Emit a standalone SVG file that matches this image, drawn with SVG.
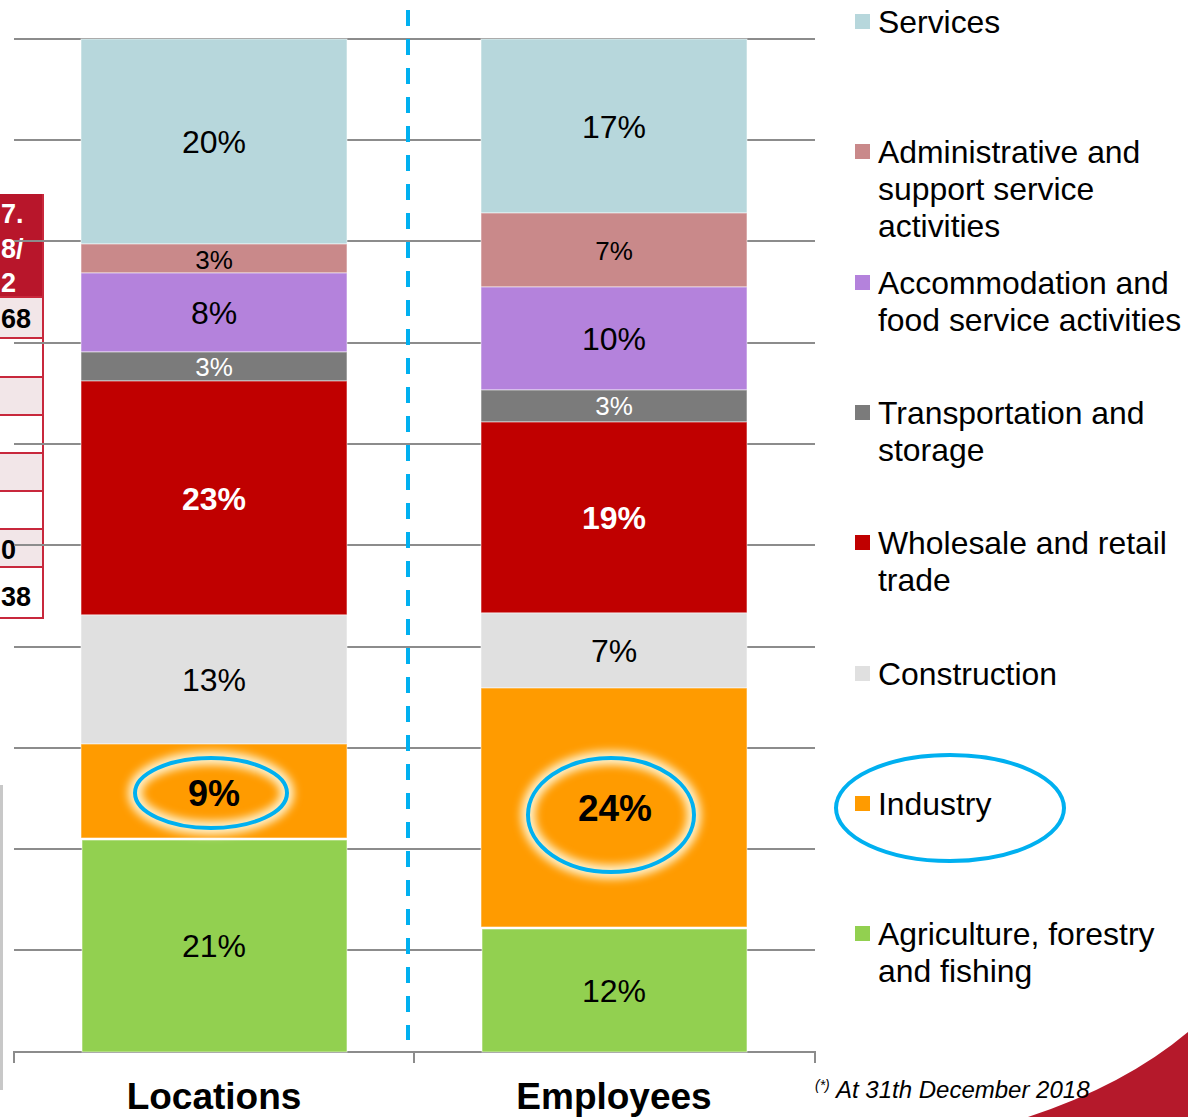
<svg xmlns="http://www.w3.org/2000/svg" width="1188" height="1117" viewBox="0 0 1188 1117">
<defs>
<style>
.grid{stroke:#8c8c8c;stroke-width:2;fill:none}
.seg{stroke:#ffffff;stroke-opacity:0.55;stroke-width:1}
.lbl{font-family:"Liberation Sans",Arial,sans-serif;font-size:32px;text-anchor:middle;fill:#000}
.sm{font-size:26px}
.b{font-weight:bold}
.w{fill:#fff}
.leg{font-family:"Liberation Sans",Arial,sans-serif;font-size:31.9px;fill:#000}
.ax{font-family:"Liberation Sans",Arial,sans-serif;font-size:37px;font-weight:bold;text-anchor:middle;fill:#000}
.tb{font-family:"Liberation Sans",Arial,sans-serif;font-size:27px;font-weight:bold}
.hl{fill:none;stroke:#00b0f0;stroke-width:4}
</style>
<filter id="glow" x="-30%" y="-30%" width="160%" height="160%">
<feGaussianBlur stdDeviation="4"/>
</filter>
</defs>
<rect width="1188" height="1117" fill="#fff"/>

<!-- left table fragment -->
<g id="table">
<rect x="-10" y="194" width="54" height="103" fill="#b8162b"/>
<rect x="-10" y="297" width="54" height="41" fill="#f2e6e8"/>
<rect x="-10" y="338" width="54" height="39" fill="#fff"/>
<rect x="-10" y="377" width="54" height="38" fill="#f2e6e8"/>
<rect x="-10" y="415" width="54" height="38" fill="#fff"/>
<rect x="-10" y="453" width="54" height="38" fill="#f2e6e8"/>
<rect x="-10" y="491" width="54" height="38" fill="#fff"/>
<rect x="-10" y="529" width="54" height="38" fill="#f2e6e8"/>
<rect x="-10" y="567" width="54" height="51" fill="#fff"/>
<g stroke="#c8283c" stroke-width="2" fill="none">
<path d="M43,194 V618 H-10"/>
<path d="M-10,297 H43 M-10,338 H43 M-10,377 H43 M-10,415 H43 M-10,453 H43 M-10,491 H43 M-10,529 H43 M-10,567 H43"/>
</g>
<text class="tb" x="1" y="223" fill="#fff">7.</text>
<text class="tb" x="1" y="258" fill="#fff">8/</text>
<text class="tb" x="1" y="292" fill="#fff">2</text>
<text class="tb" x="1" y="328" fill="#000">68</text>
<text class="tb" x="1" y="559" fill="#000">0</text>
<text class="tb" x="1" y="606" fill="#000">38</text>
</g>

<!-- left gray panel edge -->
<line x1="1.5" y1="785" x2="1.5" y2="1090" stroke="#c8c8c8" stroke-width="3"/>

<!-- gridlines and axis -->
<g id="grid">
<path class="grid" d="M14,39 H815 M14,140 H815 M14,241 H815 M14,343 H815 M14,444 H815 M14,545 H815 M14,647 H815 M14,748 H815 M14,849 H815 M14,950 H815"/>
<path class="grid" d="M14,1063 V1052 H815 V1063 M414,1052 V1063"/>
</g>

<!-- dashed separator -->
<line x1="408" y1="10" x2="408" y2="1040" stroke="#00b0f0" stroke-width="4" stroke-dasharray="16,13"/>

<!-- Locations bar -->
<g id="bar-locations">
<rect class="seg" x="81" y="39" width="266" height="205" fill="#b7d7dc"/>
<rect class="seg" x="81" y="244" width="266" height="29" fill="#c9898a"/>
<rect class="seg" x="81" y="273" width="266" height="79" fill="#b482dc"/>
<rect class="seg" x="81" y="352" width="266" height="29" fill="#7b7b7b"/>
<rect class="seg" x="81" y="381" width="266" height="234" fill="#c00000"/>
<rect class="seg" x="81" y="615" width="266" height="129" fill="#e0e0e0"/>
<rect class="seg" x="81" y="744" width="266" height="94" fill="#ff9b00"/>
<rect class="seg" x="82" y="840" width="265" height="212" fill="#92d050"/>
<text class="lbl" x="214" y="153">20%</text>
<text class="lbl sm" x="214" y="269">3%</text>
<text class="lbl" x="214" y="324">8%</text>
<text class="lbl sm w" x="214" y="376">3%</text>
<text class="lbl b w" x="214" y="510">23%</text>
<text class="lbl" x="214" y="691">13%</text>
<text class="lbl" x="214" y="957">21%</text>
</g>

<!-- Employees bar -->
<g id="bar-employees">
<rect class="seg" x="481" y="39" width="266" height="174" fill="#b7d7dc"/>
<rect class="seg" x="481" y="213" width="266" height="74" fill="#c9898a"/>
<rect class="seg" x="481" y="287" width="266" height="103" fill="#b482dc"/>
<rect class="seg" x="481" y="390" width="266" height="32" fill="#7b7b7b"/>
<rect class="seg" x="481" y="422" width="266" height="191" fill="#c00000"/>
<rect class="seg" x="481" y="613" width="266" height="75" fill="#e0e0e0"/>
<rect class="seg" x="481" y="688" width="266" height="239" fill="#ff9b00"/>
<rect class="seg" x="482" y="929" width="265" height="123" fill="#92d050"/>
<text class="lbl" x="614" y="138">17%</text>
<text class="lbl sm" x="614" y="260">7%</text>
<text class="lbl" x="614" y="350">10%</text>
<text class="lbl sm w" x="614" y="415">3%</text>
<text class="lbl b w" x="614" y="529">19%</text>
<text class="lbl" x="614" y="662">7%</text>
<text class="lbl" x="614" y="1002">12%</text>
</g>

<!-- highlight ellipses -->
<g id="highlight-locations">
<ellipse cx="211" cy="793" rx="76" ry="35" fill="none" stroke="#fff2cc" stroke-width="14" filter="url(#glow)"/>
<ellipse class="hl" cx="211" cy="793" rx="76" ry="35"/>
<text class="lbl b" x="214" y="806" style="font-size:36px">9%</text>
</g>
<g id="highlight-employees">
<ellipse cx="611" cy="815" rx="83" ry="57" fill="none" stroke="#fff2cc" stroke-width="14" filter="url(#glow)"/>
<ellipse class="hl" cx="611" cy="815" rx="83" ry="57"/>
<text class="lbl b" x="615" y="821" style="font-size:37px">24%</text>
</g>

<!-- axis labels -->
<text class="ax" x="214" y="1109">Locations</text>
<text class="ax" x="614" y="1109">Employees</text>

<!-- legend -->
<g id="legend">
<rect x="855" y="14" width="15" height="15" fill="#b7d7dc"/>
<text class="leg" x="878" y="33">Services</text>
<rect x="855" y="144" width="15" height="15" fill="#c9898a"/>
<text class="leg" x="878" y="163">Administrative and</text>
<text class="leg" x="878" y="200">support service</text>
<text class="leg" x="878" y="237">activities</text>
<rect x="855" y="275" width="15" height="15" fill="#b482dc"/>
<text class="leg" x="878" y="294">Accommodation and</text>
<text class="leg" x="878" y="331">food service activities</text>
<rect x="855" y="405" width="15" height="15" fill="#7b7b7b"/>
<text class="leg" x="878" y="424">Transportation and</text>
<text class="leg" x="878" y="461">storage</text>
<rect x="855" y="535" width="15" height="15" fill="#c00000"/>
<text class="leg" x="878" y="554">Wholesale and retail</text>
<text class="leg" x="878" y="591">trade</text>
<rect x="855" y="666" width="15" height="15" fill="#e0e0e0"/>
<text class="leg" x="878" y="685">Construction</text>
<rect x="855" y="796" width="15" height="15" fill="#ff9b00"/>
<text class="leg" x="878" y="815">Industry</text>
<rect x="855" y="926" width="15" height="15" fill="#92d050"/>
<text class="leg" x="878" y="945">Agriculture, forestry</text>
<text class="leg" x="878" y="982">and fishing</text>
<ellipse class="hl" cx="950" cy="808" rx="114" ry="53"/>
</g>

<!-- red swoosh -->
<path d="M1028,1117 Q1125,1085 1188,1032 L1188,1117 Z" fill="#b5192b"/>

<!-- footnote -->
<text font-family="Liberation Sans, Arial, sans-serif" font-style="italic" fill="#000"><tspan x="815" y="1090" font-size="14">(*)</tspan><tspan x="836" y="1098" font-size="24">At 31th December 2018</tspan></text>
</svg>
